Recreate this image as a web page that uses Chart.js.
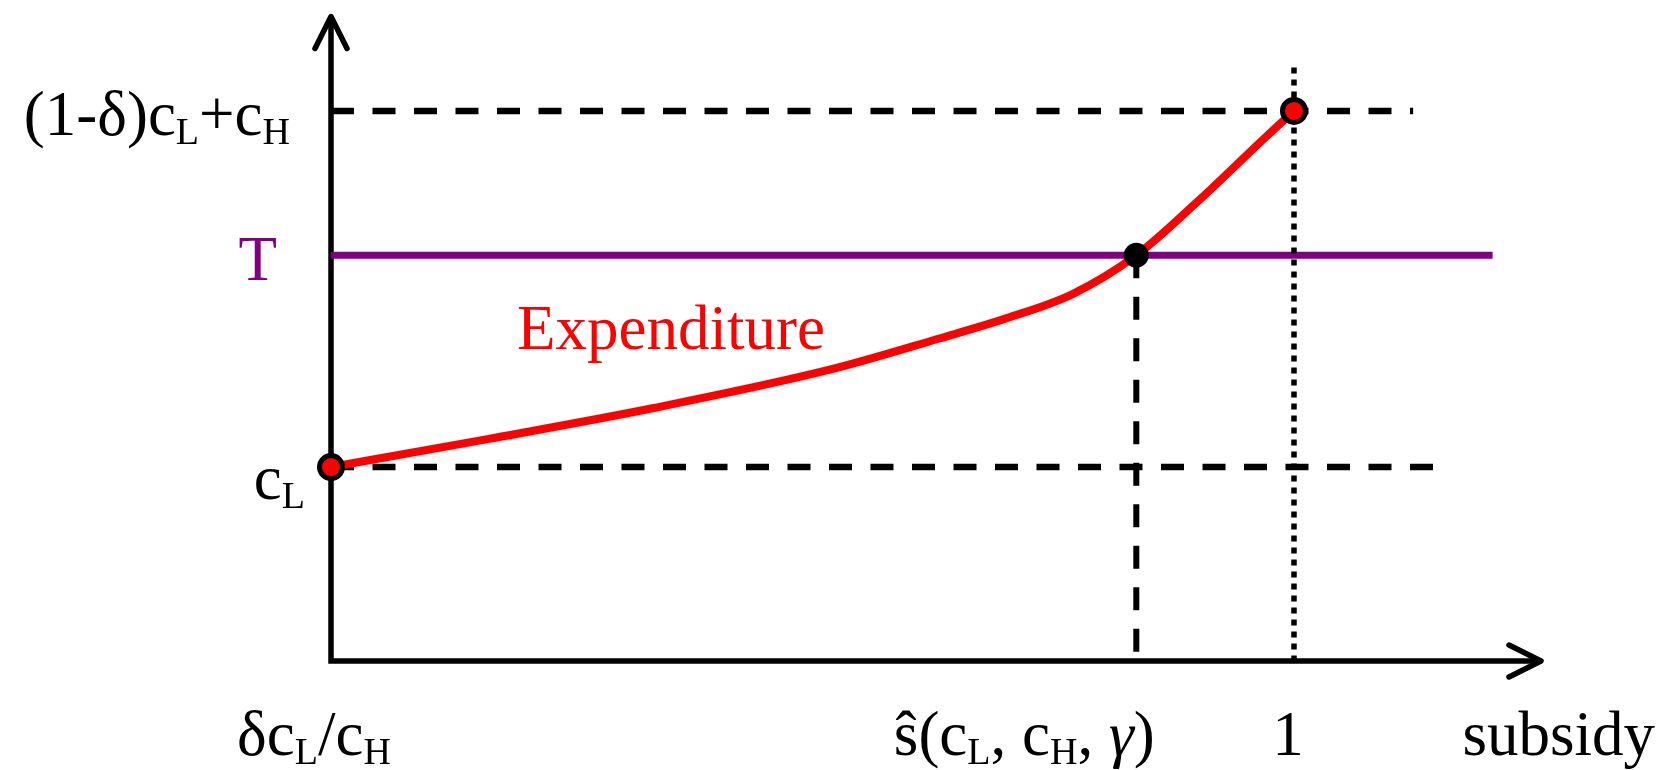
<!DOCTYPE html>
<html>
<head>
<meta charset="utf-8">
<script src="https://cdn.jsdelivr.net/npm/chart.js@4"></script>
<style>
  body { margin: 0; background: #fff; }
  canvas { display: block; }
</style>
</head>
<body>
<canvas id="chart" width="1664" height="770"></canvas>
<script>
// key levels on both axes
const xStart = 0.2
const sHat = 0.869
const xOne = 1
const cL = 1.0
const tLevel = 2.092
const cTop = 2.836

// expenditure as a function of the subsidy
const subsidy = [0.2, 0.33, 0.467, 0.615, 0.706, 0.762, 0.816, 0.869, 0.919, 0.974, 1.0]
const expenditure = [1.0, 1.144, 1.303, 1.503, 1.664, 1.769, 1.892, 2.092, 2.364, 2.687, 2.836]

// tick labels, _{..} = subscript, *{..} = italic
const xTicks = [xStart, sHat, xOne]
const xTickLabels = ['δc_{L}/c_{H}', 'ŝ(c_{L}, c_{H}, *{γ})', '1']
const yTicks = [cL, tLevel, cTop]
const yTickLabels = ['c_{L}', 'T', '(1-δ)c_{L}+c_{H}']

// how far the guide lines run to the right
const topGuideEnd = 1.099
const cLGuideEnd = 1.1155
const tLineEnd = 1.165
const dottedTop = 3.06

const FONT = '"Liberation Serif", "Times New Roman", serif'
const MAIN = 63
const SUB = 38

function parseRich(str) {
  const parts = []
  const re = /(_|\*)\{([^}]*)\}/g
  let last = 0, m
  while ((m = re.exec(str)) !== null) {
    if (m.index > last) parts.push({ text: str.slice(last, m.index) })
    parts.push({ text: m[2], sub: m[1] === '_', italic: m[1] === '*' })
    last = re.lastIndex
  }
  if (last < str.length) parts.push({ text: str.slice(last) })
  return parts
}

function fontFor(p) {
  return (p.italic ? 'italic ' : '') + (p.sub ? SUB : MAIN) + 'px ' + FONT
}

function richWidth(ctx, parts) {
  let w = 0
  parts.forEach(p => { ctx.font = fontFor(p); w += ctx.measureText(p.text).width })
  return w
}

// draws a label with subscripts; align is 'left' | 'center' | 'right'
function drawRich(ctx, str, x, y, align, color) {
  const parts = parseRich(str)
  const w = richWidth(ctx, parts)
  let cx = align === 'right' ? x - w : align === 'center' ? x - w / 2 : x
  ctx.fillStyle = color
  ctx.textBaseline = 'alphabetic'
  ctx.textAlign = 'left'
  parts.forEach(p => {
    ctx.font = fontFor(p)
    ctx.fillText(p.text, cx, p.sub ? y + 9 : y)
    cx += ctx.measureText(p.text).width
  })
}

const axesPlugin = {
  id: 'arrowAxes',
  beforeDatasetsDraw(chart) {
    const { ctx, chartArea } = chart
    const x0 = chartArea.left
    const y0 = chartArea.bottom
    ctx.save()
    ctx.strokeStyle = '#000'
    ctx.lineWidth = 5.5
    ctx.lineCap = 'butt'
    ctx.beginPath()
    ctx.moveTo(x0, y0 + 2.75)
    ctx.lineTo(x0, chartArea.top + 2)
    ctx.moveTo(x0 - 2.75, y0)
    ctx.lineTo(chartArea.right - 2, y0)
    ctx.stroke()
    // arrow heads
    ctx.lineCap = 'round'
    ctx.lineJoin = 'round'
    ctx.beginPath()
    ctx.moveTo(x0 - 16, chartArea.top + 32)
    ctx.lineTo(x0, chartArea.top)
    ctx.lineTo(x0 + 16, chartArea.top + 32)
    ctx.moveTo(chartArea.right - 32, y0 - 16)
    ctx.lineTo(chartArea.right, y0)
    ctx.lineTo(chartArea.right - 32, y0 + 16)
    ctx.stroke()
    ctx.restore()
  },
  afterDraw(chart) {
    const { ctx, chartArea, scales } = chart
    const xShift = [-17, -112, -6]
    const yRight = [-26, -54, -41]
    const yDrop = [32, 25, 24]
    const yColors = ['#000', '#800080', '#000']
    ctx.save()
    xTicks.forEach((v, i) => {
      drawRich(ctx, xTickLabels[i], scales.x.getPixelForValue(v) + xShift[i], chartArea.bottom + 94, 'center', '#000')
    })
    yTicks.forEach((v, i) => {
      drawRich(ctx, yTickLabels[i], chartArea.left + yRight[i], scales.y.getPixelForValue(v) + yDrop[i], 'right', yColors[i])
    })
    drawRich(ctx, 'subsidy', chart.width - 9, chartArea.bottom + 94, 'right', '#000')
    drawRich(ctx, 'Expenditure', scales.x.getPixelForValue(0.3545), scales.y.getPixelForValue(1.61), 'left', '#ff0000')
    ctx.restore()
  }
}

const guide = (data, dash, width, order) => ({
  data, borderColor: '#000', borderWidth: width, borderDash: dash,
  borderCapStyle: 'butt', pointRadius: 0, fill: false, order, clip: false
})

new Chart(document.getElementById('chart'), {
  type: 'line',
  data: {
    datasets: [
      guide([{ x: xStart, y: cTop }, { x: topGuideEnd, y: cTop }], [23, 18.5], 6.5, 6),
      guide([{ x: xStart, y: cL }, { x: cLGuideEnd, y: cL }], [23, 18.5], 6.5, 6),
      guide([{ x: sHat, y: tLevel }, { x: sHat, y: 0 }], [23, 18.5], 6, 6),
      {
        label: 'T',
        data: [{ x: xStart, y: tLevel }, { x: tLineEnd, y: tLevel }],
        borderColor: '#800080', borderWidth: 7, pointRadius: 0, order: 5, clip: false
      },
      guide([{ x: xOne, y: dottedTop }, { x: xOne, y: 0 }], [6, 6], 5.5, 4),
      {
        label: 'Expenditure',
        data: subsidy.map((s, i) => ({ x: s, y: expenditure[i] })),
        borderColor: '#ff0000', borderWidth: 8, pointRadius: 0,
        cubicInterpolationMode: 'monotone', order: 3, clip: false
      },
      {
        label: 'ends',
        data: [{ x: xStart, y: cL }, { x: xOne, y: cTop }],
        showLine: false, pointRadius: 11.5, borderWidth: 5,
        pointBackgroundColor: '#ff0000', pointBorderColor: '#000', order: 1, clip: false
      },
      {
        label: 'crossing',
        data: [{ x: sHat, y: tLevel }],
        showLine: false, pointRadius: 12.5, borderWidth: 0,
        pointBackgroundColor: '#000', order: 2, clip: false
      }
    ]
  },
  options: {
    responsive: false,
    animation: false,
    layout: { padding: { left: 331, right: 123, top: 13, bottom: 109 } },
    plugins: { legend: { display: false }, tooltip: { enabled: false } },
    scales: {
      x: { type: 'linear', min: 0.2, max: 1.2052, display: false },
      y: { type: 'linear', min: 0, max: 3.323, display: false }
    }
  },
  plugins: [axesPlugin]
})
</script>
</body>
</html>
